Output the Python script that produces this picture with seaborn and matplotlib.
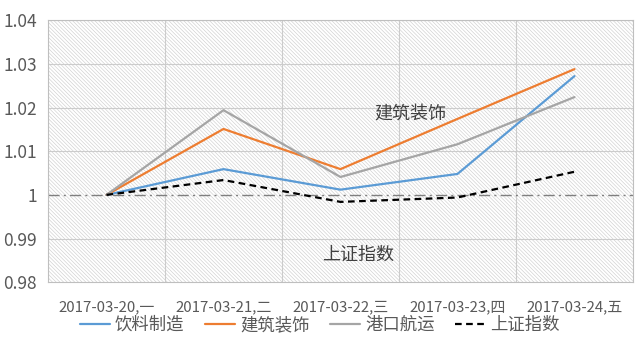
import matplotlib
matplotlib.use('Agg')
import matplotlib.pyplot as plt
import seaborn as sns
import pandas as pd
from matplotlib.patches import Rectangle

dates = ['2017-03-20,一', '2017-03-21,二', '2017-03-22,三', '2017-03-23,四', '2017-03-24,五']
yinliao = [1.0, 1.0059, 1.0012, 1.0048, 1.0272]
jianzhu = [1.0, 1.0151, 1.0059, 1.0174, 1.0288]
gangkou = [1.0, 1.0194, 1.0041, 1.0116, 1.0224]
shangzheng = [1.0, 1.0034, 0.9984, 0.9994, 1.0053]
series_names = ['饮料制造', '建筑装饰', '港口航运', '上证指数']

sns.set_style('white')
plt.rcParams['font.family'] = ['Noto Sans CJK SC', 'DejaVu Sans']
plt.rcParams['hatch.linewidth'] = 0.45
plt.rcParams['hatch.color'] = '#cfcfcf'

rows = []
for name, vals in zip(series_names, [yinliao, jianzhu, gangkou, shangzheng]):
    for i, v in enumerate(vals):
        rows.append({'pos': i, 'value': v, 'series': name})
df = pd.DataFrame(rows)

fig = plt.figure(figsize=(6.4, 3.55), dpi=100)
ax = fig.add_axes([0.075, 0.205, 0.914, 0.738])

# hatched plot background
ax.add_patch(Rectangle((0, 0), 1, 1, transform=ax.transAxes, facecolor='white',
                       hatch='\\' * 9, edgecolor='#cfcfcf', linewidth=0, zorder=0))

for x in [0.5, 1.5, 2.5, 3.5]:
    ax.axvline(x, color='#cccccc', lw=0.8, zorder=1)
for y in [0.99, 1.01, 1.02, 1.03, 1.04]:
    ax.axhline(y, color='#cccccc', lw=0.8, zorder=1)
ax.axhline(1.0, color='#7f7f7f', lw=1.0, ls=(0, (8, 3, 1.5, 3)), zorder=2)

palette = {'饮料制造': '#5B9BD5', '建筑装饰': '#ED7D31', '港口航运': '#A5A5A5', '上证指数': '#000000'}
sns.lineplot(data=df, x='pos', y='value', hue='series', style='series',
             palette=palette, dashes={'饮料制造': '', '建筑装饰': '', '港口航运': '', '上证指数': (3, 2)},
             linewidth=1.6, ax=ax, zorder=3)

ax.set_xlim(-0.5, 4.5)
ax.set_ylim(0.98, 1.04)
ax.set_xticks(range(len(dates)))
ax.set_xticklabels(dates)
ax.set_yticks([0.98, 0.99, 1.0, 1.01, 1.02, 1.03, 1.04])
ax.set_yticklabels(['0.98', '0.99', '1', '1.01', '1.02', '1.03', '1.04'])
ax.tick_params(axis='y', length=4, color='#bfbfbf', labelsize=12.5, labelcolor='#595959', pad=4)
ax.tick_params(axis='x', length=0, labelsize=10.8, labelcolor='#595959', pad=13)
ax.set_xlabel('')
ax.set_ylabel('')
for side in ['left', 'bottom', 'right', 'top']:
    ax.spines[side].set_color('#bfbfbf')
    ax.spines[side].set_linewidth(0.8)

ax.text(2.6, 1.0187, '建筑装饰', fontsize=13, color='#404040', ha='center', va='center')
ax.text(2.15, 0.9862, '上证指数', fontsize=13, color='#404040', ha='center', va='center')

handles, labels = ax.get_legend_handles_labels()
ax.get_legend().remove()
fig.legend(handles, labels, loc='center', bbox_to_anchor=(0.5, 1 - 325 / 355), ncol=4,
           frameon=False, fontsize=12.5, labelcolor='#595959', handlelength=1.7,
           handletextpad=0.3, columnspacing=1.2)

fig.savefig('out.png', dpi=100)
